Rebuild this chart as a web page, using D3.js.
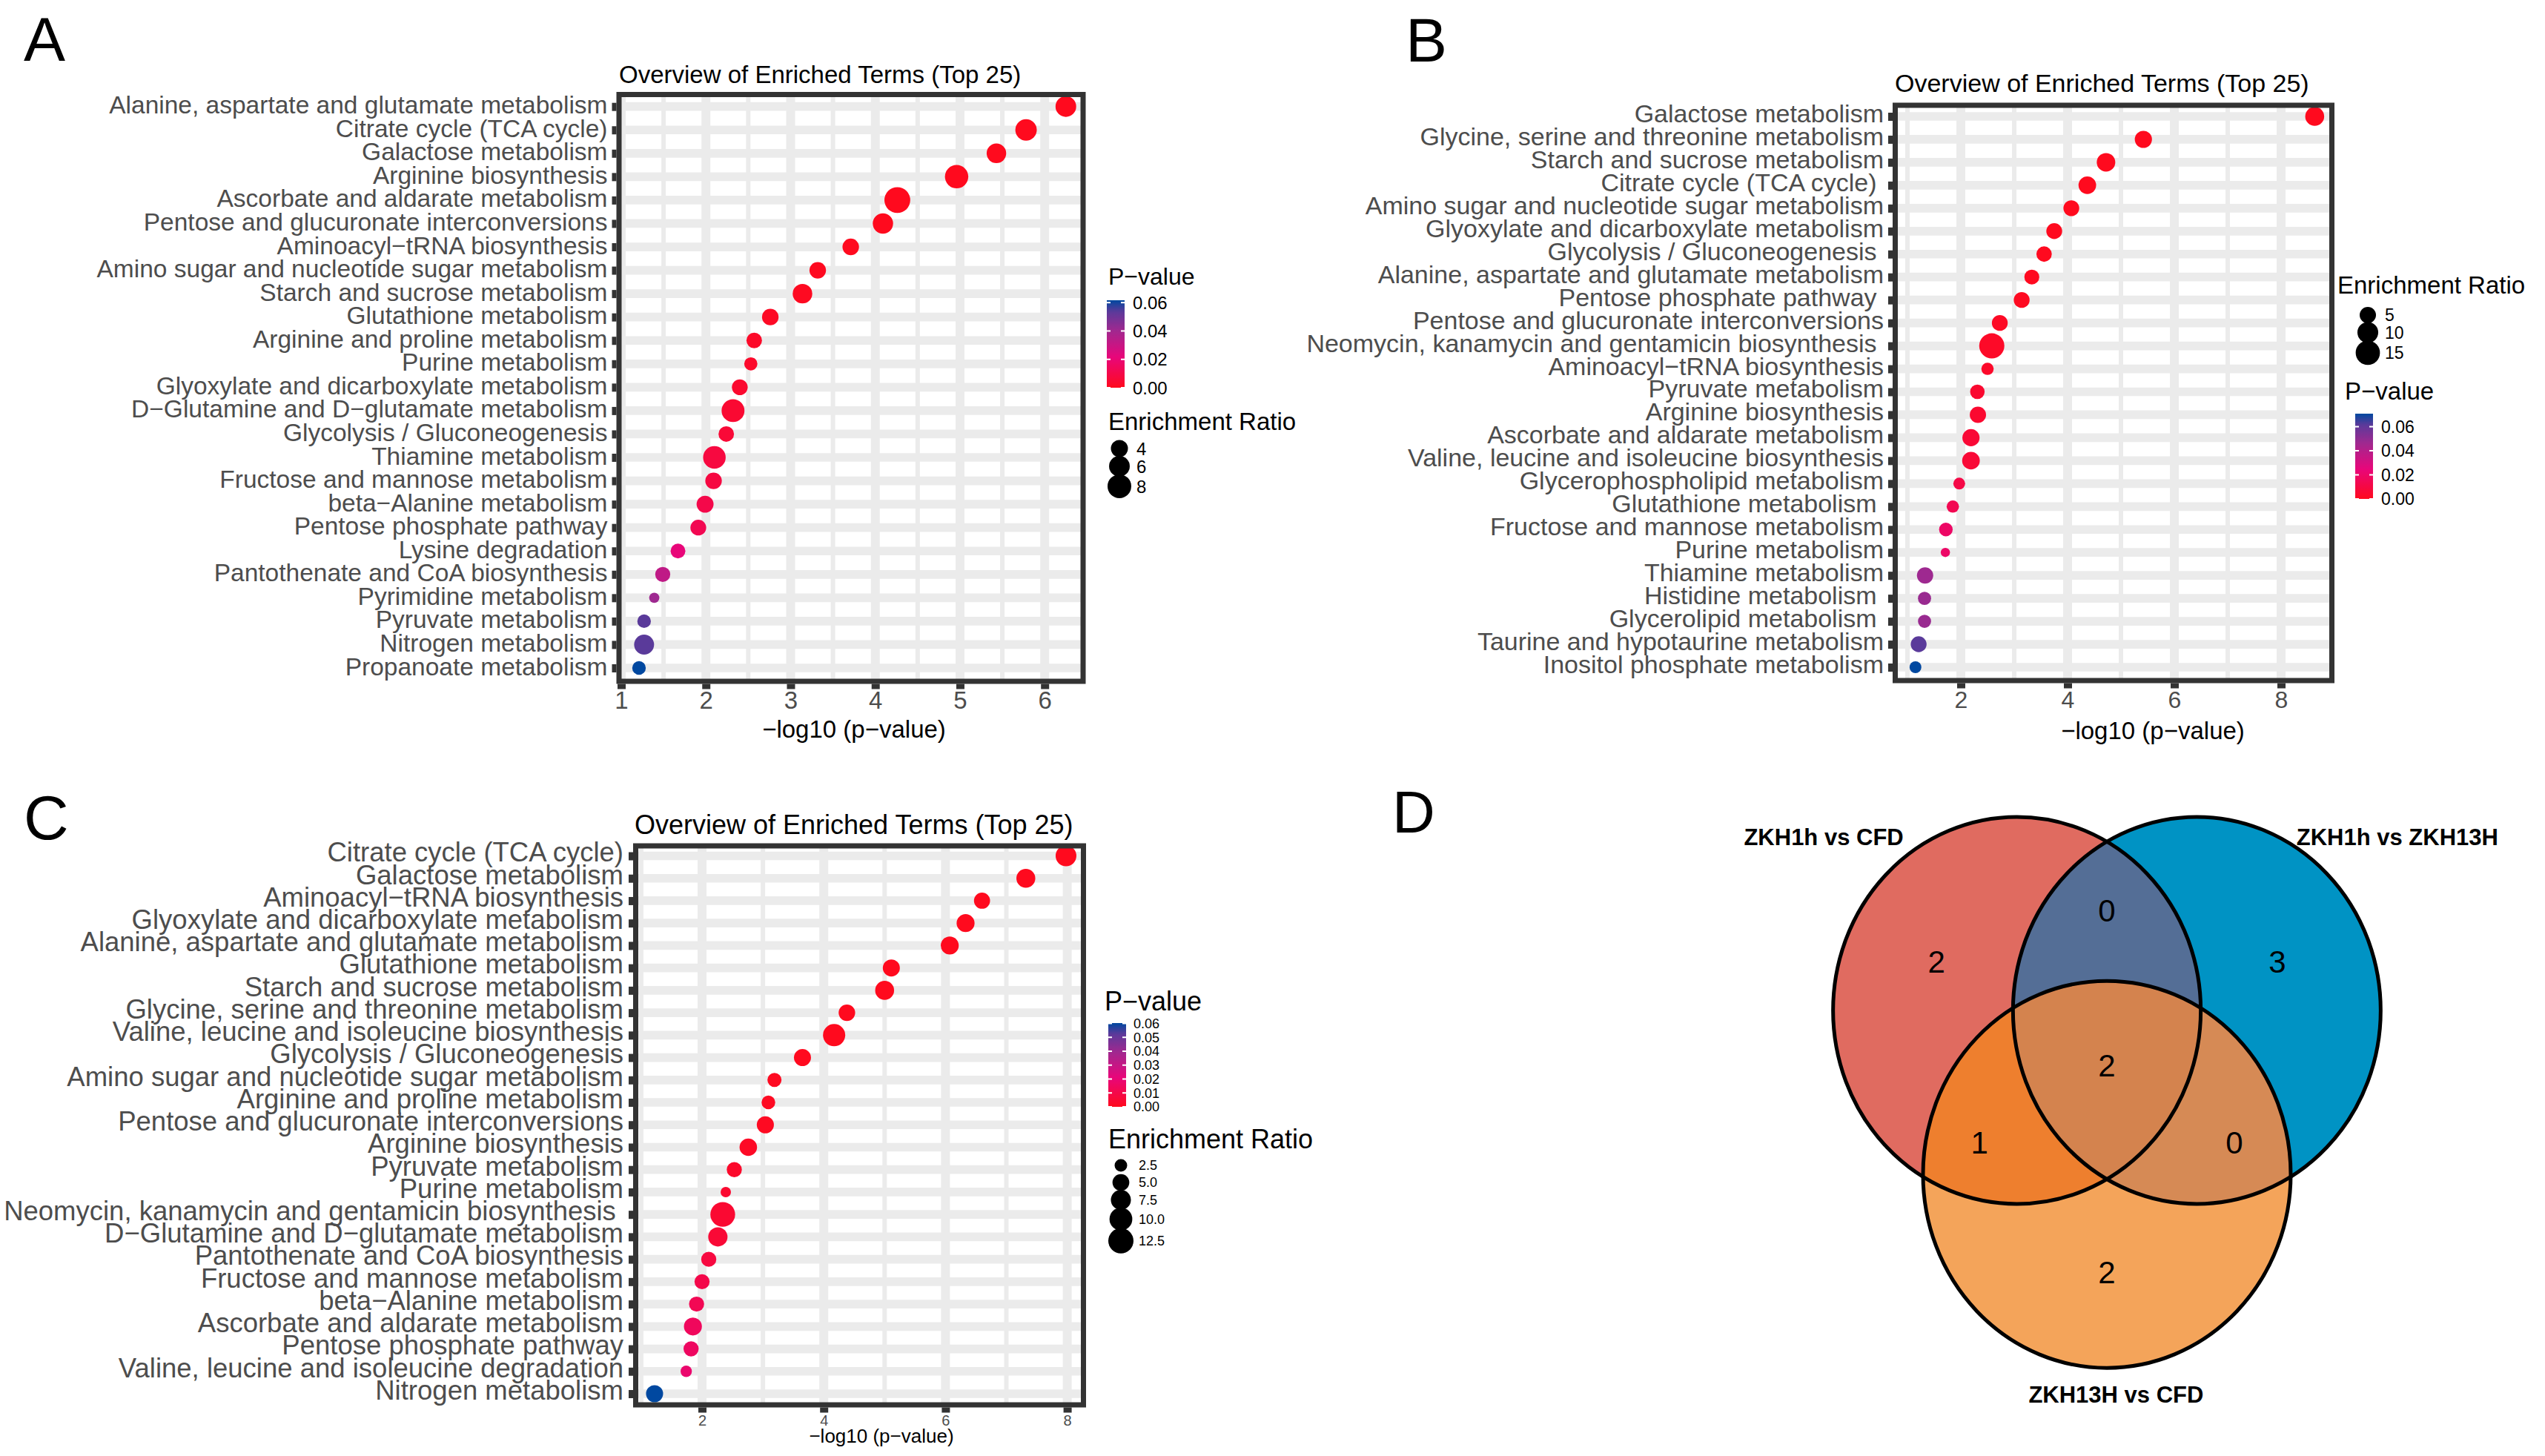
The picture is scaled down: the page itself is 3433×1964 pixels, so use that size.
<!DOCTYPE html>
<html><head><meta charset="utf-8">
<script src="https://cdn.jsdelivr.net/npm/d3@7"></script>
<style>
body{margin:0;background:#fff}
svg text{font-family:"Liberation Sans",Arial,Helvetica,sans-serif;white-space:pre}
</style></head>
<body><svg id="c" width="3433" height="1964"></svg>
<script>
// ---------------- DATA ----------------
const termsA = ["Alanine, aspartate and glutamate metabolism","Citrate cycle (TCA cycle)","Galactose metabolism","Arginine biosynthesis","Ascorbate and aldarate metabolism","Pentose and glucuronate interconversions","Aminoacyl\u2212tRNA biosynthesis","Amino sugar and nucleotide sugar metabolism","Starch and sucrose metabolism","Glutathione metabolism","Arginine and proline metabolism","Purine metabolism","Glyoxylate and dicarboxylate metabolism","D\u2212Glutamine and D\u2212glutamate metabolism","Glycolysis / Gluconeogenesis","Thiamine metabolism","Fructose and mannose metabolism","beta\u2212Alanine metabolism","Pentose phosphate pathway","Lysine degradation","Pantothenate and CoA biosynthesis","Pyrimidine metabolism","Pyruvate metabolism","Nitrogen metabolism","Propanoate metabolism"];
const logpA = [6.25,5.78,5.43,4.96,4.26,4.09,3.71,3.32,3.14,2.76,2.57,2.53,2.40,2.32,2.24,2.10,2.09,1.99,1.91,1.67,1.49,1.39,1.27,1.27,1.21];
const ratioA = [6.0,6.46,5.34,7.73,9.56,5.78,3.75,3.75,5.34,3.75,3.27,2.32,3.40,7.42,3.27,7.23,3.75,3.96,3.40,2.94,3.07,1.32,2.46,5.56,2.46];

const termsB = ["Galactose metabolism","Glycine, serine and threonine metabolism","Starch and sucrose metabolism","Citrate cycle (TCA cycle) ","Amino sugar and nucleotide sugar metabolism","Glyoxylate and dicarboxylate metabolism","Glycolysis / Gluconeogenesis ","Alanine, aspartate and glutamate metabolism","Pentose phosphate pathway ","Pentose and glucuronate interconversions","Neomycin, kanamycin and gentamicin biosynthesis ","Aminoacyl\u2212tRNA biosynthesis","Pyruvate metabolism","Arginine biosynthesis","Ascorbate and aldarate metabolism","Valine, leucine and isoleucine biosynthesis","Glycerophospholipid metabolism","Glutathione metabolism ","Fructose and mannose metabolism","Purine metabolism","Thiamine metabolism","Histidine metabolism ","Glycerolipid metabolism ","Taurine and hypotaurine metabolism","Inositol phosphate metabolism"];
const logpB = [8.63,5.42,4.72,4.37,4.07,3.75,3.56,3.33,3.14,2.73,2.58,2.50,2.31,2.32,2.19,2.19,1.97,1.85,1.72,1.71,1.33,1.32,1.32,1.21,1.15];
const ratioB = [7.75,5.83,7.25,6.29,4.57,4.57,4.19,3.82,4.57,4.57,16.5,2.0,3.47,4.98,5.83,6.29,1.71,2.0,2.81,0.6,4.98,2.51,2.51,4.57,1.71];

const termsC = ["Citrate cycle (TCA cycle)","Galactose metabolism","Aminoacyl\u2212tRNA biosynthesis","Glyoxylate and dicarboxylate metabolism","Alanine, aspartate and glutamate metabolism","Glutathione metabolism","Starch and sucrose metabolism","Glycine, serine and threonine metabolism","Valine, leucine and isoleucine biosynthesis","Glycolysis / Gluconeogenesis","Amino sugar and nucleotide sugar metabolism","Arginine and proline metabolism","Pentose and glucuronate interconversions","Arginine biosynthesis","Pyruvate metabolism","Purine metabolism","Neomycin, kanamycin and gentamicin biosynthesis ","D\u2212Glutamine and D\u2212glutamate metabolism","Pantothenate and CoA biosynthesis","Fructose and mannose metabolism","beta\u2212Alanine metabolism","Ascorbate and aldarate metabolism","Pentose phosphate pathway","Valine, leucine and isoleucine degradation","Nitrogen metabolism"];
const logpC = [7.98,7.32,6.60,6.33,6.07,5.11,5.00,4.38,4.17,3.65,3.19,3.09,3.04,2.76,2.53,2.39,2.34,2.26,2.11,2.00,1.91,1.85,1.82,1.74,1.22];
const ratioC = [8.1,6.55,4.5,5.8,5.8,5.16,6.55,4.8,9.46,5.16,3.28,3.07,5.16,5.48,3.89,1.53,12.0,6.84,3.89,3.89,3.89,5.8,3.89,1.92,5.16];

const xTicksA = [1,2,3,4,5,6];
const xTicksB = [2,4,6,8];
const xTicksC = [2,4,6,8];
const pBreaksAB = [0,0.02,0.04,0.06];
const pBreaksC = [0,0.01,0.02,0.03,0.04,0.05,0.06];
const sizeBreaksA = [4,6,8];
const sizeBreaksB = [5,10,15];
const sizeBreaksC = [2.5,5.0,7.5,10.0,12.5];

const vennSets = ["ZKH1h vs CFD","ZKH1h vs ZKH13H","ZKH13H vs CFD"];
const vennRegions = [[0],[1],[2],[0,1],[0,2],[1,2],[0,1,2]];
const vennCounts = [2,3,2,0,1,0,2];

// ---------------- STYLE ----------------
const FONT = '"Liberation Sans",Arial,Helvetica,sans-serif';
const GRID = "#EBEBEB", DARK = "#333333", TXT = "#4D4D4D";
const colFrac = [0,0.35,0.65,0.87,1];
const colRange = ["#FF0A1E","#E8067A","#A1288F","#5B3A9A","#0048A0"];

const svg = d3.select("#c");
svg.append("rect").attr("width",3433).attr("height",1964).attr("fill","#fff");

function panel(o){
  const g = svg.append("g");
  const n = o.terms.length;
  const x = d3.scaleLinear().domain(o.xd).range(o.xr);
  const y = d3.scalePoint().domain(o.terms).range(o.yr);
  const pv = o.logp.map(v=>Math.pow(10,-v));
  const pmin = d3.min(pv), pmax = d3.max(pv);
  const color = d3.scaleLinear().domain(colFrac.map(f=>pmin+f*(pmax-pmin))).range(colRange).interpolate(d3.interpolateRgb);
  const size = d3.scaleSqrt().domain(o.sd).range(o.sr);
  const b = o.box;
  const cid = "clip"+o.id;
  g.append("clipPath").attr("id",cid).append("rect").attr("x",b.l).attr("y",b.t).attr("width",b.r-b.l).attr("height",b.b-b.t);
  const grid = g.append("g").attr("clip-path",`url(#${cid})`);
  const [d0,d1] = [x.invert(b.l), x.invert(b.r)];
  const majors = d3.range(Math.ceil(d0/o.step)*o.step, d1, o.step);
  const minors = majors.map(v=>v-o.step/2).concat([majors[majors.length-1]+o.step/2]).filter(v=>v>d0&&v<d1);
  grid.selectAll(".mn").data(minors).join("line").attr("x1",d=>x(d)).attr("x2",d=>x(d)).attr("y1",b.t).attr("y2",b.b).attr("stroke",GRID).attr("stroke-width",6);
  grid.selectAll(".mj").data(majors).join("line").attr("x1",d=>x(d)).attr("x2",d=>x(d)).attr("y1",b.t).attr("y2",b.b).attr("stroke",GRID).attr("stroke-width",12);
  grid.selectAll(".hz").data(o.terms).join("line").attr("x1",b.l).attr("x2",b.r).attr("y1",d=>y(d)).attr("y2",d=>y(d)).attr("stroke",GRID).attr("stroke-width",11.7);
  g.append("g").selectAll("circle").data(d3.range(n)).join("circle")
    .attr("cx",i=>x(o.logp[i])).attr("cy",i=>y(o.terms[i])).attr("r",i=>size(o.ratio[i])/2).attr("fill",i=>color(pv[i]));
  g.append("rect").attr("x",b.l).attr("y",b.t).attr("width",b.r-b.l).attr("height",b.b-b.t).attr("fill","none").attr("stroke",DARK).attr("stroke-width",7);
  // y axis
  const ya = g.append("g").attr("transform",`translate(${b.l-3.5},0)`).call(d3.axisLeft(y).tickSize(6).tickPadding(o.ypad));
  ya.select(".domain").remove();
  ya.selectAll(".tick line").attr("stroke",DARK).attr("stroke-width",11);
  ya.selectAll(".tick text").attr("fill",TXT).attr("font-size",o.yfs).attr("font-family",FONT).attr("dy",o.ydy);
  // x axis
  const xa = g.append("g").attr("transform",`translate(0,${b.b+3.5})`).call(d3.axisBottom(x).tickValues(o.xticks).tickFormat(d3.format("d")).tickSize(7).tickPadding(3.5));
  xa.select(".domain").remove();
  xa.selectAll(".tick line").attr("stroke",DARK).attr("stroke-width",11);
  xa.selectAll(".tick text").attr("fill",TXT).attr("font-size",o.xfs).attr("font-family",FONT);
  // titles
  g.append("text").attr("x",o.title[0]).attr("y",o.title[1]).attr("font-size",o.title[2]).attr("fill","#000").text("Overview of Enriched Terms (Top 25)");
  g.append("text").attr("x",o.xlab[0]).attr("y",o.xlab[1]).attr("font-size",o.xlab[2]).attr("text-anchor","middle").attr("fill","#000").text("\u2212log10 (p\u2212value)");
  // colour legend
  const L = o.cleg;
  g.append("text").attr("x",L.tx).attr("y",L.ty).attr("font-size",L.tfs).text("P\u2212value");
  const gid = "grad"+o.id;
  const grad = g.append("defs").append("linearGradient").attr("id",gid).attr("x1",0).attr("y1",1).attr("x2",0).attr("y2",0);
  grad.selectAll("stop").data(d3.range(0,1.0001,0.02)).join("stop").attr("offset",t=>t).attr("stop-color",t=>color(pmin+t*(pmax-pmin)));
  g.append("rect").attr("x",L.bx).attr("y",L.by0).attr("width",L.bw).attr("height",L.by1-L.by0).attr("fill",`url(#${gid})`);
  const cy = d3.scaleLinear().domain([pmin,pmax]).range([L.by1,L.by0]);
  const lt = g.append("g");
  lt.selectAll(".tl").data(o.pbreaks).join("line").attr("x1",L.bx).attr("x2",L.bx+5).attr("y1",d=>cy(d)).attr("y2",d=>cy(d)).attr("stroke","#fff").attr("stroke-width",2);
  lt.selectAll(".tr").data(o.pbreaks).join("line").attr("x1",L.bx+L.bw-5).attr("x2",L.bx+L.bw).attr("y1",d=>cy(d)).attr("y2",d=>cy(d)).attr("stroke","#fff").attr("stroke-width",2);
  lt.selectAll("text").data(o.pbreaks).join("text").attr("x",L.lx).attr("y",d=>cy(d)).attr("dy","0.36em").attr("font-size",L.lfs).text(d=>d3.format(".2f")(d));
  // size legend
  const S = o.sleg;
  g.append("text").attr("x",S.tx).attr("y",S.ty).attr("font-size",S.tfs).text("Enrichment Ratio");
  const keys = o.sbreaks.map(v=>Math.max(S.minKey,size(v)-3));
  let acc = S.y0; const ys = [];
  keys.forEach((k,i)=>{ if(i>0) acc += (keys[i-1]+k)/2; ys.push(acc); });
  const sg = g.append("g");
  sg.selectAll("circle").data(o.sbreaks).join("circle").attr("cx",S.cx).attr("cy",(d,i)=>ys[i]).attr("r",d=>size(d)/2).attr("fill","#000");
  sg.selectAll("text").data(o.sbreaks).join("text").attr("x",S.lx).attr("y",(d,i)=>ys[i]).attr("dy","0.36em").attr("font-size",S.lfs).text(d=>o.sfmt(d));
}

panel({id:"A",terms:termsA,logp:logpA,ratio:ratioA,xd:[1,6],xr:[838,1409.2],yr:[143.7,901],step:1,
  box:{l:835,r:1461,t:127.5,b:919},ypad:6,yfs:33.5,ydy:"0.27em",xfs:33,xticks:xTicksA,
  title:[835,112,33],xlab:[1152,995,33],
  cleg:{tx:1495,ty:384,tfs:32,bx:1493,bw:24,by0:405,by1:523,lx:1528,lfs:24},pbreaks:pBreaksAB,
  sleg:{tx:1495,ty:580,tfs:33,cx:1510,y0:605,lx:1533,lfs:24,minKey:23},sbreaks:sizeBreaksA,sd:[4,8],sr:[23,32],sfmt:d3.format("d")});

panel({id:"B",terms:termsB,logp:logpB,ratio:ratioB,xd:[2,8],xr:[2645,3077],yr:[157,900],step:2,
  box:{l:2556.5,r:3145.5,t:142,b:918},ypad:6,yfs:34,ydy:"0.22em",xfs:32,xticks:xTicksB,
  title:[2556,124,34],xlab:[2904,997,33],
  cleg:{tx:3163,ty:539,tfs:33,bx:3177,bw:24,by0:558,by1:673,lx:3212,lfs:23},pbreaks:pBreaksAB,
  sleg:{tx:3153,ty:396,tfs:33,cx:3194,y0:425,lx:3217,lfs:23,minKey:22},sbreaks:sizeBreaksB,sd:[5,15],sr:[22,32.7],sfmt:d3.format("d")});

panel({id:"C",terms:termsC,logp:logpC,ratio:ratioC,xd:[2,8],xr:[947,1439.6],yr:[1154.5,1880],step:2,
  box:{l:857.5,r:1461.5,t:1141,b:1895},ypad:7,yfs:36.5,ydy:"0.2em",xfs:20,xticks:xTicksC,
  title:[856,1124.5,36],xlab:[1189,1946,26],
  cleg:{tx:1490,ty:1363,tfs:36,bx:1495,bw:24,by0:1380,by1:1493,lx:1529,lfs:18},pbreaks:pBreaksC,
  sleg:{tx:1495,ty:1549,tfs:36,cx:1512,y0:1572,lx:1536,lfs:18,minKey:23},sbreaks:sizeBreaksC,sd:[2.5,12.5],sr:[17,34],sfmt:d3.format(".1f")});

// ---------------- VENN ----------------
(function(){
  const sx = d3.scaleLinear().domain([-1,1]).range([2842-248,2842+248]);
  const sy = d3.scaleLinear().domain([-1,1]).range([1436.7-261,1436.7+261]);
  const ang = [210,330,90].map(a=>a*Math.PI/180);
  const dist = 0.565;
  const ctr = ang.map(a=>[dist*Math.cos(a),dist*Math.sin(a)]);
  const rx = sx(1)-sx(0), ry = sy(1)-sy(0);
  const fills = {"0":"#E06B60","1":"#0093C4","2":"#F4A45A","0,1":"#546E96","0,2":"#EE7F2E","1,2":"#D68A55","0,1,2":"#D4834E"};
  const g = svg.append("g");
  const defs = g.append("defs");
  ctr.forEach((c,i)=>defs.append("clipPath").attr("id","vc"+i).append("ellipse").attr("cx",sx(c[0])).attr("cy",sy(c[1])).attr("rx",rx).attr("ry",ry));
  const ell = (parent,i,fill)=>parent.append("ellipse").attr("cx",sx(ctr[i][0])).attr("cy",sy(ctr[i][1])).attr("rx",rx).attr("ry",ry).attr("fill",fill);
  ell(g,0,fills["0"]);
  ell(g,1,fills["1"]);
  ell(g.append("g").attr("clip-path","url(#vc0)"),1,fills["0,1"]);
  ell(g,2,fills["2"]);
  ell(g.append("g").attr("clip-path","url(#vc0)"),2,fills["0,2"]);
  ell(g.append("g").attr("clip-path","url(#vc1)"),2,fills["1,2"]);
  ell(g.append("g").attr("clip-path","url(#vc0)").append("g").attr("clip-path","url(#vc1)"),2,fills["0,1,2"]);
  ctr.forEach((c,i)=>g.append("ellipse").attr("cx",sx(c[0])).attr("cy",sy(c[1])).attr("rx",rx).attr("ry",ry).attr("fill","none").attr("stroke","#000").attr("stroke-width",5));
  // count labels
  const pos = r=>{
    if(r.length===1){const a=ang[r[0]];return [1.07*Math.cos(a),1.07*Math.sin(a)];}
    if(r.length===2){const k=[0,1,2].find(v=>!r.includes(v));const a=ang[k]+Math.PI;return [0.8*Math.cos(a),0.8*Math.sin(a)];}
    return [0,0];
  };
  g.selectAll(".cnt").data(vennRegions).join("text").attr("x",r=>sx(pos(r)[0])).attr("y",r=>sy(pos(r)[1])).attr("dy","0.36em")
    .attr("text-anchor","middle").attr("font-size",42).text((r,i)=>vennCounts[i]);
  const labPos = [[-1.54,-1.18],[1.58,-1.18],[0.05,1.70]];
  g.selectAll(".sl").data(vennSets).join("text").attr("x",(d,i)=>sx(labPos[i][0])).attr("y",(d,i)=>sy(labPos[i][1])).attr("dy","0.36em")
    .attr("text-anchor","middle").attr("font-size",31).attr("font-weight","bold").text(d=>d);
})();

// ---------------- PANEL LETTERS ----------------
const letters = [["A",32,82],["B",1896,83],["C",32,1132],["D",1878,1123]];
svg.selectAll(".let").data(letters).join("text").attr("x",d=>d[1]).attr("y",d=>d[2]).attr("font-size",d=>d[0]==="D"?80:84).text(d=>d[0]);
</script></body></html>
